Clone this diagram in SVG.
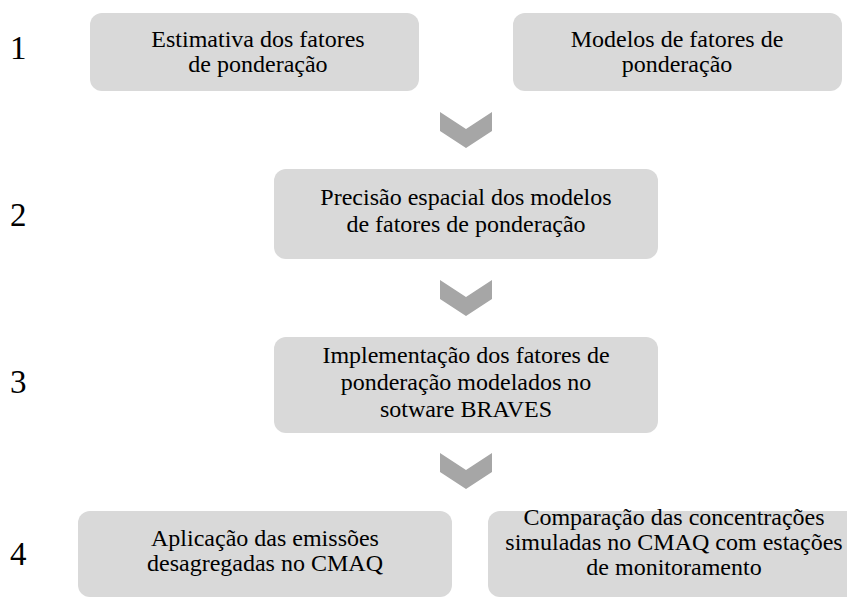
<svg xmlns="http://www.w3.org/2000/svg" width="847" height="599" viewBox="0 0 847 599">
<style>
.box{fill:#D9D9D9;}
.chev{fill:#A6A6A6;}
.t{font-family:"Liberation Serif","Times New Roman",serif;font-size:24px;fill:#000;text-anchor:middle;}
.n{font-family:"Liberation Serif","Times New Roman",serif;font-size:33px;fill:#000;}
</style>
<rect width="847" height="599" fill="#fff"/>
<g id="numbers">
<text class="n" x="10" y="59">1</text>
<text class="n" x="10" y="226">2</text>
<text class="n" x="10" y="393">3</text>
<text class="n" x="10" y="565">4</text>
</g>
<g id="node-estimativa">
<rect class="box" x="90" y="13" width="329" height="78" rx="12"/>
<text class="t" x="258" y="47">Estimativa dos fatores</text>
<text class="t" x="258" y="72">de ponderação</text>
</g>
<g id="node-modelos">
<rect class="box" x="513" y="13" width="329" height="78" rx="12"/>
<text class="t" x="677" y="47">Modelos de fatores de</text>
<text class="t" x="677" y="72">ponderação</text>
</g>
<g id="node-precisao">
<rect class="box" x="274" y="169" width="384" height="90" rx="12"/>
<text class="t" x="466" y="205">Precisão espacial dos modelos</text>
<text class="t" x="466" y="232">de fatores de ponderação</text>
</g>
<g id="node-implementacao">
<rect class="box" x="274" y="337" width="384" height="96" rx="12"/>
<text class="t" x="466" y="363">Implementação dos fatores de</text>
<text class="t" x="466" y="390">ponderação modelados no</text>
<text class="t" x="466" y="417">sotware BRAVES</text>
</g>
<g id="node-aplicacao">
<rect class="box" x="78" y="511" width="374" height="86" rx="12"/>
<text class="t" x="265" y="546">Aplicação das emissões</text>
<text class="t" x="265" y="571">desagregadas no CMAQ</text>
</g>
<g id="node-comparacao">
<rect class="box" x="488" y="511" width="372" height="86" rx="12"/>
<text class="t" x="674" y="525">Comparação das concentrações</text>
<text class="t" x="674" y="550">simuladas no CMAQ com estações</text>
<text class="t" x="674" y="575">de monitoramento</text>
</g>
<g id="connectors">
<polygon class="chev" points="440,112 466,129 492,112 492,131 466,148 440,131"/>
<polygon class="chev" points="440,280 466,297 492,280 492,299 466,316 440,299"/>
<polygon class="chev" points="440,453 466,470 492,453 492,472 466,489 440,472"/>
</g>
</svg>
